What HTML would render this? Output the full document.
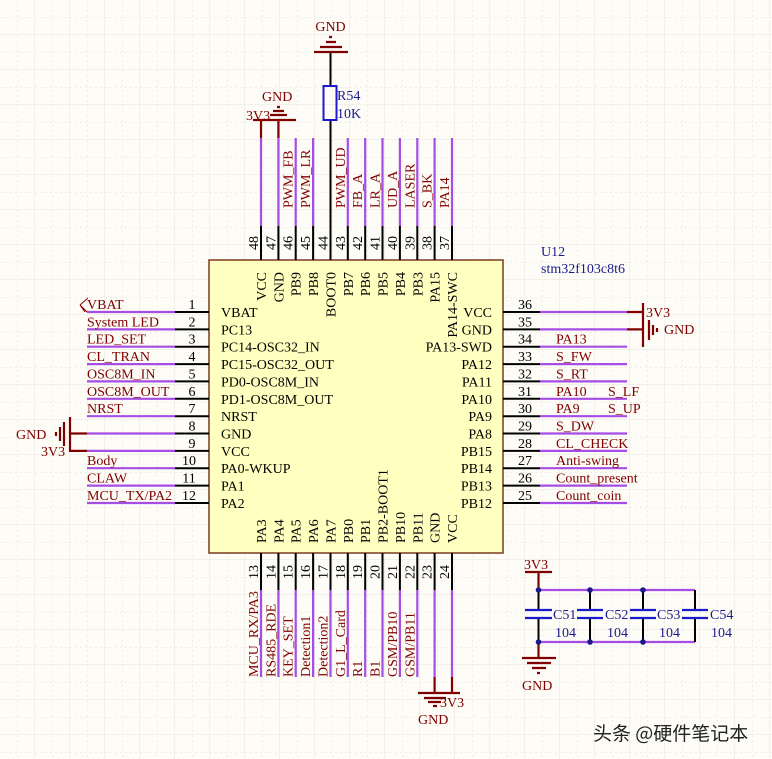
<!DOCTYPE html>
<html><head><meta charset="utf-8"><style>
html,body{margin:0;padding:0;background:#fdfcf6}
svg{display:block}
text{font-family:"Liberation Serif","Noto Serif CJK SC",serif;font-size:14px}
.m{fill:#800000}.k{fill:#000}.b{fill:#1a1a8c}
.p{stroke:#a64de6;stroke-width:2.2}.bl{stroke:#000;stroke-width:2}.r{stroke:#800000;stroke-width:2.2}
</style></head><body>
<svg width="772" height="759" viewBox="0 0 772 759" xmlns="http://www.w3.org/2000/svg">
<defs>
<pattern id="g" width="35" height="35" patternUnits="userSpaceOnUse">
<path d="M35 0V35M0 35H35" stroke="#e6e4dc" stroke-width="1" fill="none"/>
<path d="M17.5 0V35M0 17.5H35" stroke="#efede6" stroke-width="1" stroke-dasharray="2 3" fill="none"/>
</pattern>
</defs>
<rect width="772" height="759" fill="#fdfcf6"/>
<rect width="772" height="759" fill="url(#g)"/>

<!-- chip -->
<rect x="209" y="260" width="294" height="293" fill="#ffffc0" stroke="#7a3a20" stroke-width="1.5"/>

<!-- top pins -->
<g class="p">
<path d="M261 138V226M278.4 138V226M295.7 138V226M313.1 138V226M347.8 138V226M365.2 138V226M382.5 138V226M399.9 138V226M417.3 138V226M434.6 138V226M452 138V226"/>
</g>
<g class="bl"><path d="M261 226V260M278.4 226V260M295.7 226V260M313.1 226V260M330.5 120V260M347.8 226V260M365.2 226V260M382.5 226V260M399.9 226V260M417.3 226V260M434.6 226V260M452 226V260"/></g>
<!-- top power -->
<g class="r"><path d="M261 120V138M278.4 120V138M253 120H296M270 115H287M273 111H284M277 107H280"/></g>
<text x="246" y="120" class="m">3V3</text>
<text x="262" y="101" class="m">GND</text>
<!-- R54 -->
<path d="M330.5 52V86" stroke="#000" stroke-width="2"/>
<rect x="323.5" y="86" width="13" height="34" fill="none" stroke="#1a1acc" stroke-width="2"/>
<g class="r"><path d="M314 52H348M320 47H342M326 42H336M329 37H332"/></g>
<text x="330.5" y="31" class="m" text-anchor="middle">GND</text>
<text x="337" y="100" class="b">R54</text>
<text x="337" y="118" class="b">10K</text>

<!-- top numbers -->
<g class="k" text-anchor="middle">
<text transform="translate(258,243) rotate(-90)">48</text>
<text transform="translate(275.4,243) rotate(-90)">47</text>
<text transform="translate(292.7,243) rotate(-90)">46</text>
<text transform="translate(310.1,243) rotate(-90)">45</text>
<text transform="translate(327.5,243) rotate(-90)">44</text>
<text transform="translate(344.8,243) rotate(-90)">43</text>
<text transform="translate(362.2,243) rotate(-90)">42</text>
<text transform="translate(379.5,243) rotate(-90)">41</text>
<text transform="translate(396.9,243) rotate(-90)">40</text>
<text transform="translate(414.3,243) rotate(-90)">39</text>
<text transform="translate(431.6,243) rotate(-90)">38</text>
<text transform="translate(449,243) rotate(-90)">37</text>
</g>
<!-- top net labels -->
<g class="m">
<text transform="translate(292.7,208) rotate(-90)">PWM_FB</text>
<text transform="translate(310.1,208) rotate(-90)">PWM_LR</text>
<text transform="translate(344.8,208) rotate(-90)">PWM_UD</text>
<text transform="translate(362.2,208) rotate(-90)">FB_A</text>
<text transform="translate(379.5,208) rotate(-90)">LR_A</text>
<text transform="translate(396.9,208) rotate(-90)">UD_A</text>
<text transform="translate(414.3,208) rotate(-90)">LASER</text>
<text transform="translate(431.6,208) rotate(-90)">S_BK</text>
<text transform="translate(449,208) rotate(-90)">PA14</text>
</g>
<!-- top chip names -->
<g class="k" text-anchor="end">
<text transform="translate(266,272) rotate(-90)">VCC</text>
<text transform="translate(283.4,272) rotate(-90)">GND</text>
<text transform="translate(300.7,272) rotate(-90)">PB9</text>
<text transform="translate(318.1,272) rotate(-90)">PB8</text>
<text transform="translate(335.5,272) rotate(-90)">BOOT0</text>
<text transform="translate(352.8,272) rotate(-90)">PB7</text>
<text transform="translate(370.2,272) rotate(-90)">PB6</text>
<text transform="translate(387.5,272) rotate(-90)">PB5</text>
<text transform="translate(404.9,272) rotate(-90)">PB4</text>
<text transform="translate(422.3,272) rotate(-90)">PB3</text>
<text transform="translate(439.6,272) rotate(-90)">PA15</text>
<text transform="translate(457,272) rotate(-90)">PA14-SWC</text>
</g>

<!-- left pins -->
<g class="p"><path d="M87 312H175M87 329.4H175M87 346.7H175M87 364.1H175M87 381.4H175M87 398.8H175M87 416.2H175M87 433.5H175M87 450.9H175M87 468.2H175M87 485.6H175M87 503H175"/></g>
<g class="bl"><path d="M175 312H209M175 329.4H209M175 346.7H209M175 364.1H209M175 381.4H209M175 398.8H209M175 416.2H209M175 433.5H209M175 450.9H209M175 468.2H209M175 485.6H209M175 503H209"/></g>
<path d="M80 305L88 298M80 305L87 312M80 305L85 312" stroke="#800000" stroke-width="1" fill="none"/>
<g class="r"><path d="M70 433.5H87M70 450.9H87M70 417V452M64 422V446M60 427V441M56 432V436"/></g>
<text x="16" y="439" class="m">GND</text>
<text x="41" y="456" class="m">3V3</text>
<g class="m">
<text x="87" y="309">VBAT</text>
<text x="87" y="326.4">System LED</text>
<text x="87" y="343.7">LED_SET</text>
<text x="87" y="361.1">CL_TRAN</text>
<text x="87" y="378.4">OSC8M_IN</text>
<text x="87" y="395.8">OSC8M_OUT</text>
<text x="87" y="413.2">NRST</text>
<text x="87" y="465.2">Body</text>
<text x="87" y="482.6">CLAW</text>
<text x="87" y="500">MCU_TX/PA2</text>
</g>
<g class="k" text-anchor="middle">
<text x="192" y="309">1</text><text x="192" y="326.4">2</text><text x="192" y="343.7">3</text>
<text x="192" y="361.1">4</text><text x="192" y="378.4">5</text><text x="192" y="395.8">6</text>
<text x="192" y="413.2">7</text><text x="192" y="430.5">8</text><text x="192" y="447.9">9</text>
<text x="189" y="465.2">10</text><text x="189" y="482.6">11</text><text x="189" y="500">12</text>
</g>
<g class="k">
<text x="221" y="317">VBAT</text>
<text x="221" y="334.4">PC13</text>
<text x="221" y="351.7">PC14-OSC32_IN</text>
<text x="221" y="369.1">PC15-OSC32_OUT</text>
<text x="221" y="386.4">PD0-OSC8M_IN</text>
<text x="221" y="403.8">PD1-OSC8M_OUT</text>
<text x="221" y="421.2">NRST</text>
<text x="221" y="438.5">GND</text>
<text x="221" y="455.9">VCC</text>
<text x="221" y="473.2">PA0-WKUP</text>
<text x="221" y="490.6">PA1</text>
<text x="221" y="508">PA2</text>
</g>

<!-- right pins -->
<g class="p"><path d="M540 312H627M540 329.4H627M540 346.7H627M540 364.1H627M540 381.4H627M540 398.8H627M540 416.2H627M540 433.5H627M540 450.9H627M540 468.2H627M540 485.6H627M540 503H627"/></g>
<g class="bl"><path d="M503 312H540M503 329.4H540M503 346.7H540M503 364.1H540M503 381.4H540M503 398.8H540M503 416.2H540M503 433.5H540M503 450.9H540M503 468.2H540M503 485.6H540M503 503H540"/></g>
<g class="r"><path d="M627 312H643M627 329.4H643M643 303V347M649 320V340M653 325V335M657 328V332"/></g>
<text x="646" y="317" class="m">3V3</text>
<text x="664" y="334" class="m">GND</text>
<g class="k" text-anchor="middle">
<text x="525" y="309">36</text><text x="525" y="326.4">35</text><text x="525" y="343.7">34</text>
<text x="525" y="361.1">33</text><text x="525" y="378.4">32</text><text x="525" y="395.8">31</text>
<text x="525" y="413.2">30</text><text x="525" y="430.5">29</text><text x="525" y="447.9">28</text>
<text x="525" y="465.2">27</text><text x="525" y="482.6">26</text><text x="525" y="500">25</text>
</g>
<g class="m">
<text x="556" y="343.7">PA13</text>
<text x="556" y="361.1">S_FW</text>
<text x="556" y="378.4">S_RT</text>
<text x="556" y="395.8">PA10</text><text x="608" y="395.8">S_LF</text>
<text x="556" y="413.2">PA9</text><text x="608" y="413.2">S_UP</text>
<text x="556" y="430.5">S_DW</text>
<text x="556" y="447.9">CL_CHECK</text>
<text x="556" y="465.2">Anti-swing</text>
<text x="556" y="482.6">Count_present</text>
<text x="556" y="500">Count_coin</text>
</g>
<g class="k" text-anchor="end">
<text x="492" y="317">VCC</text>
<text x="492" y="334.4">GND</text>
<text x="492" y="351.7">PA13-SWD</text>
<text x="492" y="369.1">PA12</text>
<text x="492" y="386.4">PA11</text>
<text x="492" y="403.8">PA10</text>
<text x="492" y="421.2">PA9</text>
<text x="492" y="438.5">PA8</text>
<text x="492" y="455.9">PB15</text>
<text x="492" y="473.2">PB14</text>
<text x="492" y="490.6">PB13</text>
<text x="492" y="508">PB12</text>
</g>
<text x="541" y="256" class="b">U12</text>
<text x="541" y="273" class="b">stm32f103c8t6</text>

<!-- bottom pins -->
<g class="bl"><path d="M261 553V590M278.4 553V590M295.7 553V590M313.1 553V590M330.5 553V590M347.8 553V590M365.2 553V590M382.5 553V590M399.9 553V590M417.3 553V590M434.6 553V590M452 553V590"/></g>
<g class="p"><path d="M261 590V677M278.4 590V677M295.7 590V677M313.1 590V677M330.5 590V677M347.8 590V677M365.2 590V677M382.5 590V677M399.9 590V677M417.3 590V677M434.6 590V677M452 590V677"/></g>
<g class="r"><path d="M434.6 677V693M452 677V693M418 693H460M424 698H446M428 702H441M433 706H437"/></g>
<text x="440" y="707" class="m">3V3</text>
<text x="418" y="724" class="m">GND</text>
<g class="k" text-anchor="middle">
<text transform="translate(258,572) rotate(-90)">13</text>
<text transform="translate(275.4,572) rotate(-90)">14</text>
<text transform="translate(292.7,572) rotate(-90)">15</text>
<text transform="translate(310.1,572) rotate(-90)">16</text>
<text transform="translate(327.5,572) rotate(-90)">17</text>
<text transform="translate(344.8,572) rotate(-90)">18</text>
<text transform="translate(362.2,572) rotate(-90)">19</text>
<text transform="translate(379.5,572) rotate(-90)">20</text>
<text transform="translate(396.9,572) rotate(-90)">21</text>
<text transform="translate(414.3,572) rotate(-90)">22</text>
<text transform="translate(431.6,572) rotate(-90)">23</text>
<text transform="translate(449,572) rotate(-90)">24</text>
</g>
<g class="m">
<text transform="translate(258,677) rotate(-90)">MCU_RX/PA3</text>
<text transform="translate(275.4,677) rotate(-90)">RS485_RDE</text>
<text transform="translate(292.7,677) rotate(-90)">KEY_SET</text>
<text transform="translate(310.1,677) rotate(-90)">Detection1</text>
<text transform="translate(327.5,677) rotate(-90)">Detection2</text>
<text transform="translate(344.8,677) rotate(-90)">G1_L_Card</text>
<text transform="translate(362.2,677) rotate(-90)">R1</text>
<text transform="translate(379.5,677) rotate(-90)">B1</text>
<text transform="translate(396.9,677) rotate(-90)">GSM/PB10</text>
<text transform="translate(414.3,677) rotate(-90)">GSM/PB11</text>
</g>
<g class="k">
<text transform="translate(266,543) rotate(-90)">PA3</text>
<text transform="translate(283.4,543) rotate(-90)">PA4</text>
<text transform="translate(300.7,543) rotate(-90)">PA5</text>
<text transform="translate(318.1,543) rotate(-90)">PA6</text>
<text transform="translate(335.5,543) rotate(-90)">PA7</text>
<text transform="translate(352.8,543) rotate(-90)">PB0</text>
<text transform="translate(370.2,543) rotate(-90)">PB1</text>
<text transform="translate(387.5,543) rotate(-90)">PB2-BOOT1</text>
<text transform="translate(404.9,543) rotate(-90)">PB10</text>
<text transform="translate(422.3,543) rotate(-90)">PB11</text>
<text transform="translate(439.6,543) rotate(-90)">GND</text>
<text transform="translate(457,543) rotate(-90)">VCC</text>
</g>

<!-- capacitors -->
<g class="r"><path d="M525 572H552M538.5 572V590M538.5 642V658M522 658H556M527 663H551M532 668H546M537 673H540"/></g>
<text x="524" y="569" class="m">3V3</text>
<text x="522" y="690" class="m">GND</text>
<g class="p"><path d="M538.5 590H695M538.5 642H695"/></g>
<g class="bl"><path d="M538.5 590V610M538.5 618V642M590 590V610M590 618V642M643 590V610M643 618V642M695 590V610M695 618V642"/></g>
<g stroke="#1a1acc" stroke-width="2.2"><path d="M525 610H552M525 618H552M577 610H603M577 618H603M630 610H656M630 618H656M682 610H708M682 618H708"/></g>
<g fill="#1a1a8c"><circle cx="538.5" cy="590" r="2.8"/><circle cx="590" cy="590" r="2.8"/><circle cx="643" cy="590" r="2.8"/><circle cx="538.5" cy="642" r="2.8"/><circle cx="590" cy="642" r="2.8"/><circle cx="643" cy="642" r="2.8"/></g>
<g class="b">
<text x="553" y="619">C51</text><text x="605" y="619">C52</text><text x="657" y="619">C53</text><text x="710" y="619">C54</text>
<text x="555" y="637">104</text><text x="607" y="637">104</text><text x="659" y="637">104</text><text x="711" y="637">104</text>
</g>
<text x="593" y="740" style="font-family:'Noto Sans CJK SC',sans-serif;font-size:19px" fill="#222">头条 @硬件笔记本</text>
</svg>
</body></html>
